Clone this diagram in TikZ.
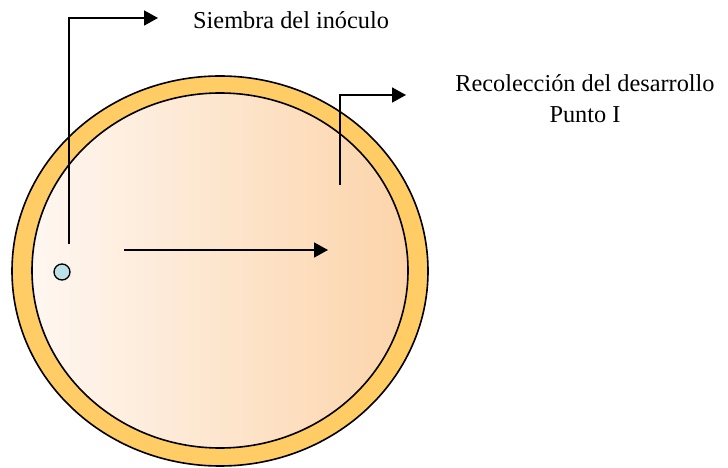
\documentclass[tikz,border=0pt]{standalone}
\usepackage{fontspec}
\setmainfont{Liberation Serif}
\usetikzlibrary{arrows.meta}
\definecolor{ringcol}{RGB}{255,204,102}
\definecolor{dishleft}{RGB}{254,247,241}
\definecolor{dishright}{RGB}{252,212,170}
\definecolor{dotcol}{RGB}{188,226,232}
\begin{document}
\begin{tikzpicture}[x=1bp,y=-1bp,
  conn/.style={line width=1.7bp, -{Triangle[length=14bp,width=15bp]}},
  lbl/.style={font=\fontsize{24.4}{31.5}\selectfont, inner sep=0pt, align=center},
  outline/.style={draw=black, line width=1.6bp}]
\useasboundingbox (0,0) rectangle (728,468);
% dish
\fill[ringcol] (220,271) ellipse [x radius=208, y radius=195];
\draw[outline] (220,271) ellipse [x radius=208, y radius=195];
\shade[left color=dishleft, right color=dishright] (220,270.5) ellipse [x radius=188, y radius=177.5];
\draw[outline] (220,270.5) ellipse [x radius=188, y radius=177.5];
% inoculum
\node[circle, draw=black, line width=1.3bp, fill=dotcol, minimum size=16bp, inner sep=0pt] (inoc) at (62,272) {};
% labels
\node[lbl, anchor=base west] (siembra) at (193,29) {Siembra del inóculo};
\node[lbl, anchor=base] (recol) at (585,123) {Recolección del desarrollo\\Punto I};
% connectors
\coordinate (s0) at (69,244);
\coordinate (s1) at (158,18);
\coordinate (r0) at (340,185);
\coordinate (r1) at (406,95);
\coordinate (m0) at (124,250);
\coordinate (m1) at (328,250);
\draw[conn] (s0) |- (s1);
\draw[conn] (r0) |- (r1);
\draw[conn] (m0) -- (m1);
\end{tikzpicture}
\end{document}
